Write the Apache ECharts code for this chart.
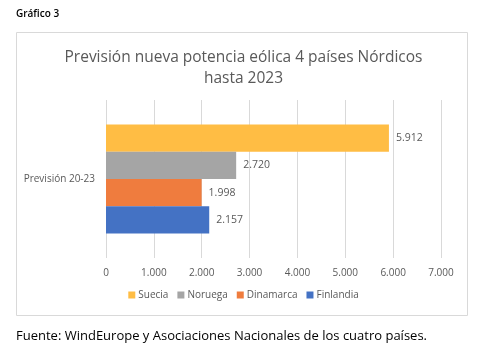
<!DOCTYPE html>
<html><head><meta charset="utf-8">
<script src="https://cdn.jsdelivr.net/npm/echarts@6/dist/echarts.min.js"></script>
<style>html,body{margin:0;padding:0;background:#fff}#c{width:487px;height:357px}</style>
</head><body><div id="c"></div>
<script>
const categories = ['Previsión 20-23'];
const seriesNames = ['Suecia', 'Noruega', 'Dinamarca', 'Finlandia'];
const seriesValues = [[5912], [2720], [1998], [2157]];
const colors = ['#FFBD44', '#A5A5A5', '#EF7C3E', '#4472C4'];
const xTicks = [0, 1000, 2000, 3000, 4000, 5000, 6000, 7000];

const fmt = v => String(v).replace(/\B(?=(\d{3})+(?!\d))/g, '.');
const font = 'Open Sans, Noto Sans, sans-serif';
const chart = echarts.init(document.getElementById('c'), null, {renderer: 'canvas'});
chart.setOption({
  animation: false,
  textStyle: {fontFamily: font},
  title: {
    text: 'Previsión nueva potencia eólica 4 países Nórdicos\nhasta 2023',
    left: 'center', top: 42,
    textStyle: {fontSize: 15.5, fontWeight: 'normal', color: '#595959', lineHeight: 21, fontFamily: font}
  },
  legend: {
    data: seriesNames, bottom: 52, left: 'center',
    itemWidth: 7, itemHeight: 7, itemGap: 9, icon: 'rect',
    textStyle: {fontSize: 10, color: '#595959', padding: [0, 0, 0, -2]}
  },
  grid: {left: 106, right: 46, top: 100, bottom: 99, containLabel: false},
  xAxis: {
    type: 'value', min: xTicks[0], max: xTicks[xTicks.length - 1], interval: 1000,
    axisLine: {show: false}, axisTick: {show: false},
    splitLine: {lineStyle: {color: '#D9D9D9'}},
    axisLabel: {formatter: fmt, color: '#595959', fontSize: 10, margin: 10}
  },
  yAxis: {
    type: 'category', data: categories,
    axisLine: {show: false}, axisTick: {show: false},
    axisLabel: {color: '#595959', fontSize: 10, margin: 11}
  },
  series: seriesNames.map((n, i) => ({
    name: n, type: 'bar', data: seriesValues[i],
    barGap: '0%', barCategoryGap: '31%',
    itemStyle: {color: colors[i]},
    label: {show: true, position: 'right', formatter: p => fmt(p.value), color: '#595959', fontSize: 10.5, distance: 7}
  })),
  graphic: [
    {type: 'rect', shape: {x: 16.5, y: 32.5, width: 451, height: 283}, style: {fill: 'none', stroke: '#D9D9D9', lineWidth: 1}, z: -1},
    {type: 'text', left: 16, top: 9, style: {text: 'Gráfico 3', font: '600 10px ' + font, fill: '#000'}},
    {type: 'text', left: 16, top: 330, style: {text: 'Fuente: WindEurope y Asociaciones Nacionales de los cuatro países.', font: '13px ' + font, fill: '#000'}}
  ]
});
</script></body></html>
